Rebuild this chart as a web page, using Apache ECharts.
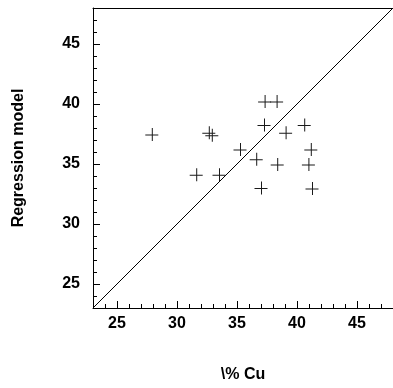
<!DOCTYPE html>
<html>
<head>
<meta charset="utf-8">
<script src="https://cdn.jsdelivr.net/npm/echarts@6/dist/echarts.min.js"></script>
<style>
  html, body { margin: 0; padding: 0; background: #fff; }
  #chart { width: 393px; height: 388px; }
</style>
</head>
<body>
<div id="chart"></div>
<script>
// Observed % Cu against the regression model's prediction
const observedCu = [27.9, 32.65, 32.9, 31.6, 33.5, 35.25, 36.6, 37.0, 37.25, 37.3, 38.3, 38.35, 39.05, 40.6, 41.15, 40.95, 41.25];
const predictedCu = [37.45, 37.6, 37.4, 34.1, 34.1, 36.2, 35.4, 33.0, 38.25, 40.2, 40.2, 34.95, 37.6, 38.25, 36.2, 34.95, 32.95];

// Axis range and the 1:1 reference line
const axisRange = [23, 48];
const identityLine = [23, 48];

const xLabel = '\\% Cu';
const yLabel = 'Regression model';

const points = observedCu.map((x, i) => [x, predictedCu[i]]);
const lineData = identityLine.map(v => [v, v]);

const crossPath = 'path://M0,6.5h13v1h-13z M6.5,0h1v13h-1z';
const font = "'Liberation Sans', Arial, sans-serif";
const ink = '#000';

const majorAxis = (extra) => Object.assign({
  type: 'value',
  min: axisRange[0],
  max: axisRange[1],
  splitNumber: 5,
  axisLine: { show: true, onZero: false, lineStyle: { color: ink, width: 1 } },
  axisTick: { show: true, inside: true, length: 7, lineStyle: { color: ink, width: 1 } },
  axisLabel: {
    show: true, color: ink, fontFamily: font, fontSize: 16, fontWeight: 'bold',
    showMinLabel: false, showMaxLabel: false
  },
  splitLine: { show: false },
  nameTextStyle: { color: ink, fontFamily: font, fontSize: 16, fontWeight: 'bold' }
}, extra);

const minorAxis = (extra) => Object.assign({
  type: 'value',
  min: axisRange[0],
  max: axisRange[1],
  interval: 1,
  axisLine: { show: false },
  axisTick: { show: true, inside: true, length: 4, lineStyle: { color: ink, width: 1 } },
  axisLabel: { show: false },
  splitLine: { show: false }
}, extra);

const chart = echarts.init(document.getElementById('chart'), null, { renderer: 'canvas' });
chart.setOption({
  animation: false,
  backgroundColor: '#fff',
  grid: { left: 93, top: 8, width: 302, height: 302, containLabel: false },
  xAxis: [
    majorAxis({ position: 'bottom', name: xLabel, nameLocation: 'middle', nameGap: 59,
      axisLabel: { show: true, color: ink, fontFamily: font, fontSize: 16, fontWeight: 'bold',
        margin: 8, showMinLabel: false, showMaxLabel: false } }),
    minorAxis({ position: 'bottom' }),
    {
      type: 'value', position: 'top', min: axisRange[0], max: axisRange[1],
      axisLine: { show: true, onZero: false, lineStyle: { color: ink, width: 1 } },
      axisTick: { show: false }, axisLabel: { show: false }, splitLine: { show: false }
    }
  ],
  yAxis: [
    majorAxis({ position: 'left', name: yLabel, nameLocation: 'middle', nameGap: 66, nameRotate: 90,
      axisLabel: { show: true, color: ink, fontFamily: font, fontSize: 16, fontWeight: 'bold',
        margin: 13, showMinLabel: false, showMaxLabel: false } }),
    minorAxis({ position: 'left' })
  ],
  series: [
    {
      type: 'line',
      xAxisIndex: 0, yAxisIndex: 0,
      data: lineData,
      symbol: 'none',
      lineStyle: { color: ink, width: 1 },
      silent: true
    },
    {
      type: 'scatter',
      xAxisIndex: 0, yAxisIndex: 0,
      data: points,
      symbol: crossPath,
      symbolSize: 13,
      itemStyle: { color: '#1a1a1a', opacity: 1 },
      silent: true
    }
  ]
});
</script>
</body>
</html>
